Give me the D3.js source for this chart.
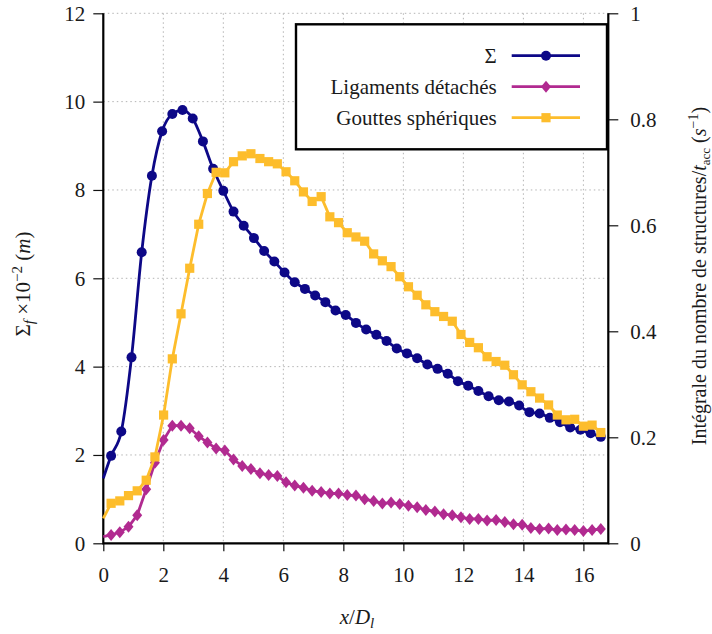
<!DOCTYPE html>
<html><head><meta charset="utf-8">
<script src="https://cdn.jsdelivr.net/npm/d3@7"></script>
<style>
body{margin:0;background:#fff}
svg{display:block}
svg text{font-family:'Liberation Serif','DejaVu Serif',serif !important;fill:#1a1a1a}
</style>
</head><body>
<svg id="chart" width="712" height="634"></svg>
<script>
// ---------- data ----------
const xTicks = [0, 2, 4, 6, 8, 10, 12, 14, 16];
const yLeftTicks = [0, 2, 4, 6, 8, 10, 12];
const yRightTicks = [0, 0.2, 0.4, 0.6, 0.8, 1];
const seriesNames = ["Σ", "Ligaments détachés", "Gouttes sphériques"];

// Σ_f (×10^-2 m), left axis
const sigmaX = [0, 0.26, 0.60, 0.94, 1.28, 1.62, 1.96, 2.30, 2.64, 2.98, 3.32, 3.66, 4.00, 4.34, 4.68, 5.02,
  5.36, 5.70, 6.04, 6.38, 6.72, 7.06, 7.40, 7.74, 8.08, 8.42, 8.76, 9.10, 9.44, 9.78, 10.12, 10.46, 10.80,
  11.14, 11.48, 11.82, 12.16, 12.50, 12.84, 13.18, 13.52, 13.86, 14.20, 14.54, 14.88, 15.22, 15.56, 15.90,
  16.24, 16.58];
const sigmaY = [1.47, 1.98, 2.53, 4.21, 6.59, 8.32, 9.33, 9.72, 9.81, 9.62, 9.10, 8.48, 7.98, 7.51, 7.19, 6.91,
  6.62, 6.38, 6.13, 5.91, 5.76, 5.61, 5.46, 5.27, 5.17, 4.99, 4.84, 4.72, 4.58, 4.41, 4.30, 4.19, 4.05,
  3.95, 3.84, 3.67, 3.57, 3.45, 3.33, 3.24, 3.21, 3.12, 2.97, 2.94, 2.84, 2.74, 2.62, 2.57, 2.49, 2.41];

// structure counts (right axis)
const structX = [0, 0.26, 0.55, 0.84, 1.13, 1.43, 1.72, 2.01, 2.30, 2.59, 2.88, 3.18, 3.47, 3.76, 4.05, 4.34,
  4.63, 4.92, 5.22, 5.51, 5.80, 6.09, 6.38, 6.67, 6.96, 7.26, 7.55, 7.84, 8.13, 8.42, 8.71, 9.01, 9.30,
  9.59, 9.88, 10.17, 10.46, 10.75, 11.05, 11.34, 11.63, 11.92, 12.21, 12.50, 12.79, 13.09, 13.38, 13.67,
  13.96, 14.25, 14.54, 14.84, 15.13, 15.42, 15.71, 16.00, 16.29, 16.58];
const ligaments = [0.0125, 0.0157, 0.021, 0.031, 0.053, 0.102, 0.152, 0.195, 0.222, 0.222, 0.217, 0.202, 0.190,
  0.179, 0.175, 0.158, 0.146, 0.140, 0.132, 0.129, 0.127, 0.115, 0.109, 0.105, 0.099, 0.097, 0.094, 0.094,
  0.091, 0.090, 0.083, 0.080, 0.075, 0.077, 0.074, 0.071, 0.068, 0.063, 0.060, 0.055, 0.053, 0.049, 0.046,
  0.046, 0.043, 0.044, 0.040, 0.036, 0.035, 0.029, 0.027, 0.028, 0.025, 0.026, 0.025, 0.023, 0.025, 0.027];
const gouttes = [0.047, 0.0755, 0.080, 0.090, 0.099, 0.119, 0.163, 0.242, 0.348, 0.433, 0.519, 0.602, 0.660,
  0.700, 0.699, 0.720, 0.731, 0.735, 0.726, 0.720, 0.716, 0.701, 0.684, 0.663, 0.645, 0.654, 0.616, 0.605,
  0.586, 0.578, 0.570, 0.546, 0.533, 0.522, 0.503, 0.484, 0.468, 0.450, 0.437, 0.428, 0.419, 0.394, 0.379,
  0.369, 0.352, 0.343, 0.336, 0.318, 0.299, 0.286, 0.274, 0.261, 0.242, 0.233, 0.234, 0.221, 0.223, 0.209];

// ---------- style ----------
const COL = {sigma: "#0d0887", lig: "#b12a90", gout: "#fdbd2c"};
const FS = 21;
const FONT = "'Liberation Serif','DejaVu Serif',serif";
const L = 103.3, R = 608.3, T = 13.3, B = 543.3;

const svg = d3.select("#chart").attr("font-family", FONT);
const x = d3.scaleLinear().domain([0, 16.83]).range([L, R]);
const yL = d3.scaleLinear().domain([0, 12]).range([B, T]);
const yR = d3.scaleLinear().domain([0, 1]).range([B, T]);

// grid
const grid = svg.append("g").attr("stroke", "#b4b4b4").attr("stroke-width", 1).attr("stroke-dasharray", "1.5,3");
grid.selectAll("line.v").data(xTicks.filter(d => d > 0)).join("line")
  .attr("x1", d => x(d)).attr("x2", d => x(d)).attr("y1", T).attr("y2", B);
grid.selectAll("line.h").data(yLeftTicks.filter(d => d > 0)).join("line")
  .attr("x1", L).attr("x2", R).attr("y1", d => yL(d)).attr("y2", d => yL(d));

// axes
function styleAxis(g) {
  g.attr("font-family", FONT);
  g.select(".domain").remove();
  g.selectAll(".tick line").attr("stroke", "#111").attr("stroke-width", 1.2);
  g.selectAll(".tick text").attr("font-size", FS).attr("fill", "#1a1a1a").attr("font-family", FONT);
}
svg.append("g").attr("transform", `translate(0,${B})`)
  .call(d3.axisBottom(x).tickValues(xTicks).tickFormat(d3.format("d")).tickSize(8).tickPadding(16))
  .call(styleAxis);
svg.append("g").attr("transform", `translate(${L},0)`)
  .call(d3.axisLeft(yL).tickValues(yLeftTicks).tickFormat(d3.format("d")).tickSize(10).tickPadding(8))
  .call(styleAxis);
svg.append("g").attr("transform", `translate(${R},0)`)
  .call(d3.axisRight(yR).tickValues(yRightTicks).tickFormat(d => d === 0 || d === 1 ? d3.format("d")(d) : d3.format(".1f")(d)).tickSize(10).tickPadding(12))
  .call(styleAxis);

// border (left, bottom, right)
svg.append("path").attr("d", `M${L},${T}V${B}H${R}V${T}`)
  .attr("fill", "none").attr("stroke", "#000").attr("stroke-width", 2.2);

// series
const sigmaData = sigmaX.map((d, i) => [d, sigmaY[i]]);
const ligData = structX.map((d, i) => [d, ligaments[i]]);
const goutData = structX.map((d, i) => [d, gouttes[i]]);

const diamond = "M0,-6L5,0L0,6L-5,0Z";
const square = "M-4.6,-4.6H4.6V4.6H-4.6Z";

function drawSeries(data, ys, color, curve, marker) {
  const g = svg.append("g");
  g.append("path").datum(data)
    .attr("d", d3.line().x(d => x(d[0])).y(d => ys(d[1])).curve(curve))
    .attr("fill", "none").attr("stroke", color).attr("stroke-width", 2.8).attr("stroke-linejoin", "round");
  const pts = data.slice(1);
  if (marker === "circle") {
    g.selectAll("circle").data(pts).join("circle")
      .attr("cx", d => x(d[0])).attr("cy", d => ys(d[1])).attr("r", 5).attr("fill", color);
  } else {
    g.selectAll("path.m").data(pts).join("path").attr("class", "m")
      .attr("transform", d => `translate(${x(d[0])},${ys(d[1])})`)
      .attr("d", marker).attr("fill", color);
  }
}
drawSeries(sigmaData, yL, COL.sigma, d3.curveMonotoneX, "circle");
drawSeries(ligData, yR, COL.lig, d3.curveLinear, diamond);
drawSeries(goutData, yR, COL.gout, d3.curveLinear, square);

// legend
const lg = svg.append("g");
lg.append("rect").attr("x", 296).attr("y", 24.3).attr("width", 311).attr("height", 125)
  .attr("fill", "#fff").attr("stroke", "#000").attr("stroke-width", 2.4);
const legendRows = [
  {name: seriesNames[0], color: COL.sigma, m: "circle"},
  {name: seriesNames[1], color: COL.lig, m: diamond},
  {name: seriesNames[2], color: COL.gout, m: square}
];
legendRows.forEach((r, i) => {
  const cy = 55.7 + i * 31;
  lg.append("text").attr("x", 496.7).attr("y", cy + 7).attr("text-anchor", "end")
    .attr("font-size", FS).text(r.name);
  lg.append("line").attr("x1", 511.7).attr("x2", 580).attr("y1", cy).attr("y2", cy)
    .attr("stroke", r.color).attr("stroke-width", 2.8);
  if (r.m === "circle") lg.append("circle").attr("cx", 546).attr("cy", cy).attr("r", 5).attr("fill", r.color);
  else lg.append("path").attr("transform", `translate(546,${cy})`).attr("d", r.m).attr("fill", r.color);
});

// axis titles
const xl = svg.append("text").attr("x", 357).attr("y", 624).attr("text-anchor", "middle").attr("font-size", FS);
xl.append("tspan").attr("font-style", "italic").text("x");
xl.append("tspan").text("/");
xl.append("tspan").attr("font-style", "italic").text("D");
xl.append("tspan").attr("font-style", "italic").attr("font-size", 15).attr("dy", 4).text("l");

const yl = svg.append("text").attr("transform", "translate(30,284) rotate(-90)")
  .attr("text-anchor", "middle").attr("font-size", FS);
yl.append("tspan").text("Σ");
yl.append("tspan").attr("font-style", "italic").attr("font-size", 15).attr("dy", 4).text("f");
yl.append("tspan").attr("dy", -4).text(" ×10");
yl.append("tspan").attr("font-size", 15).attr("dy", -8).text("−2");
yl.append("tspan").attr("dy", 8).text(" (");
yl.append("tspan").attr("font-style", "italic").text("m");
yl.append("tspan").text(")");

const yr = svg.append("text").attr("transform", "translate(706,276) rotate(-90)")
  .attr("text-anchor", "middle").attr("font-size", 20);
yr.append("tspan").text("Intégrale du nombre de structures/");
yr.append("tspan").attr("font-style", "italic").text("t");
yr.append("tspan").attr("font-size", 13).attr("dy", 4).text("acc");
yr.append("tspan").attr("dy", -4).text(" (");
yr.append("tspan").attr("font-style", "italic").text("s");
yr.append("tspan").attr("font-size", 14).attr("dy", -8).text("−1");
yr.append("tspan").attr("dy", 8).text(")");
</script>
</body></html>
